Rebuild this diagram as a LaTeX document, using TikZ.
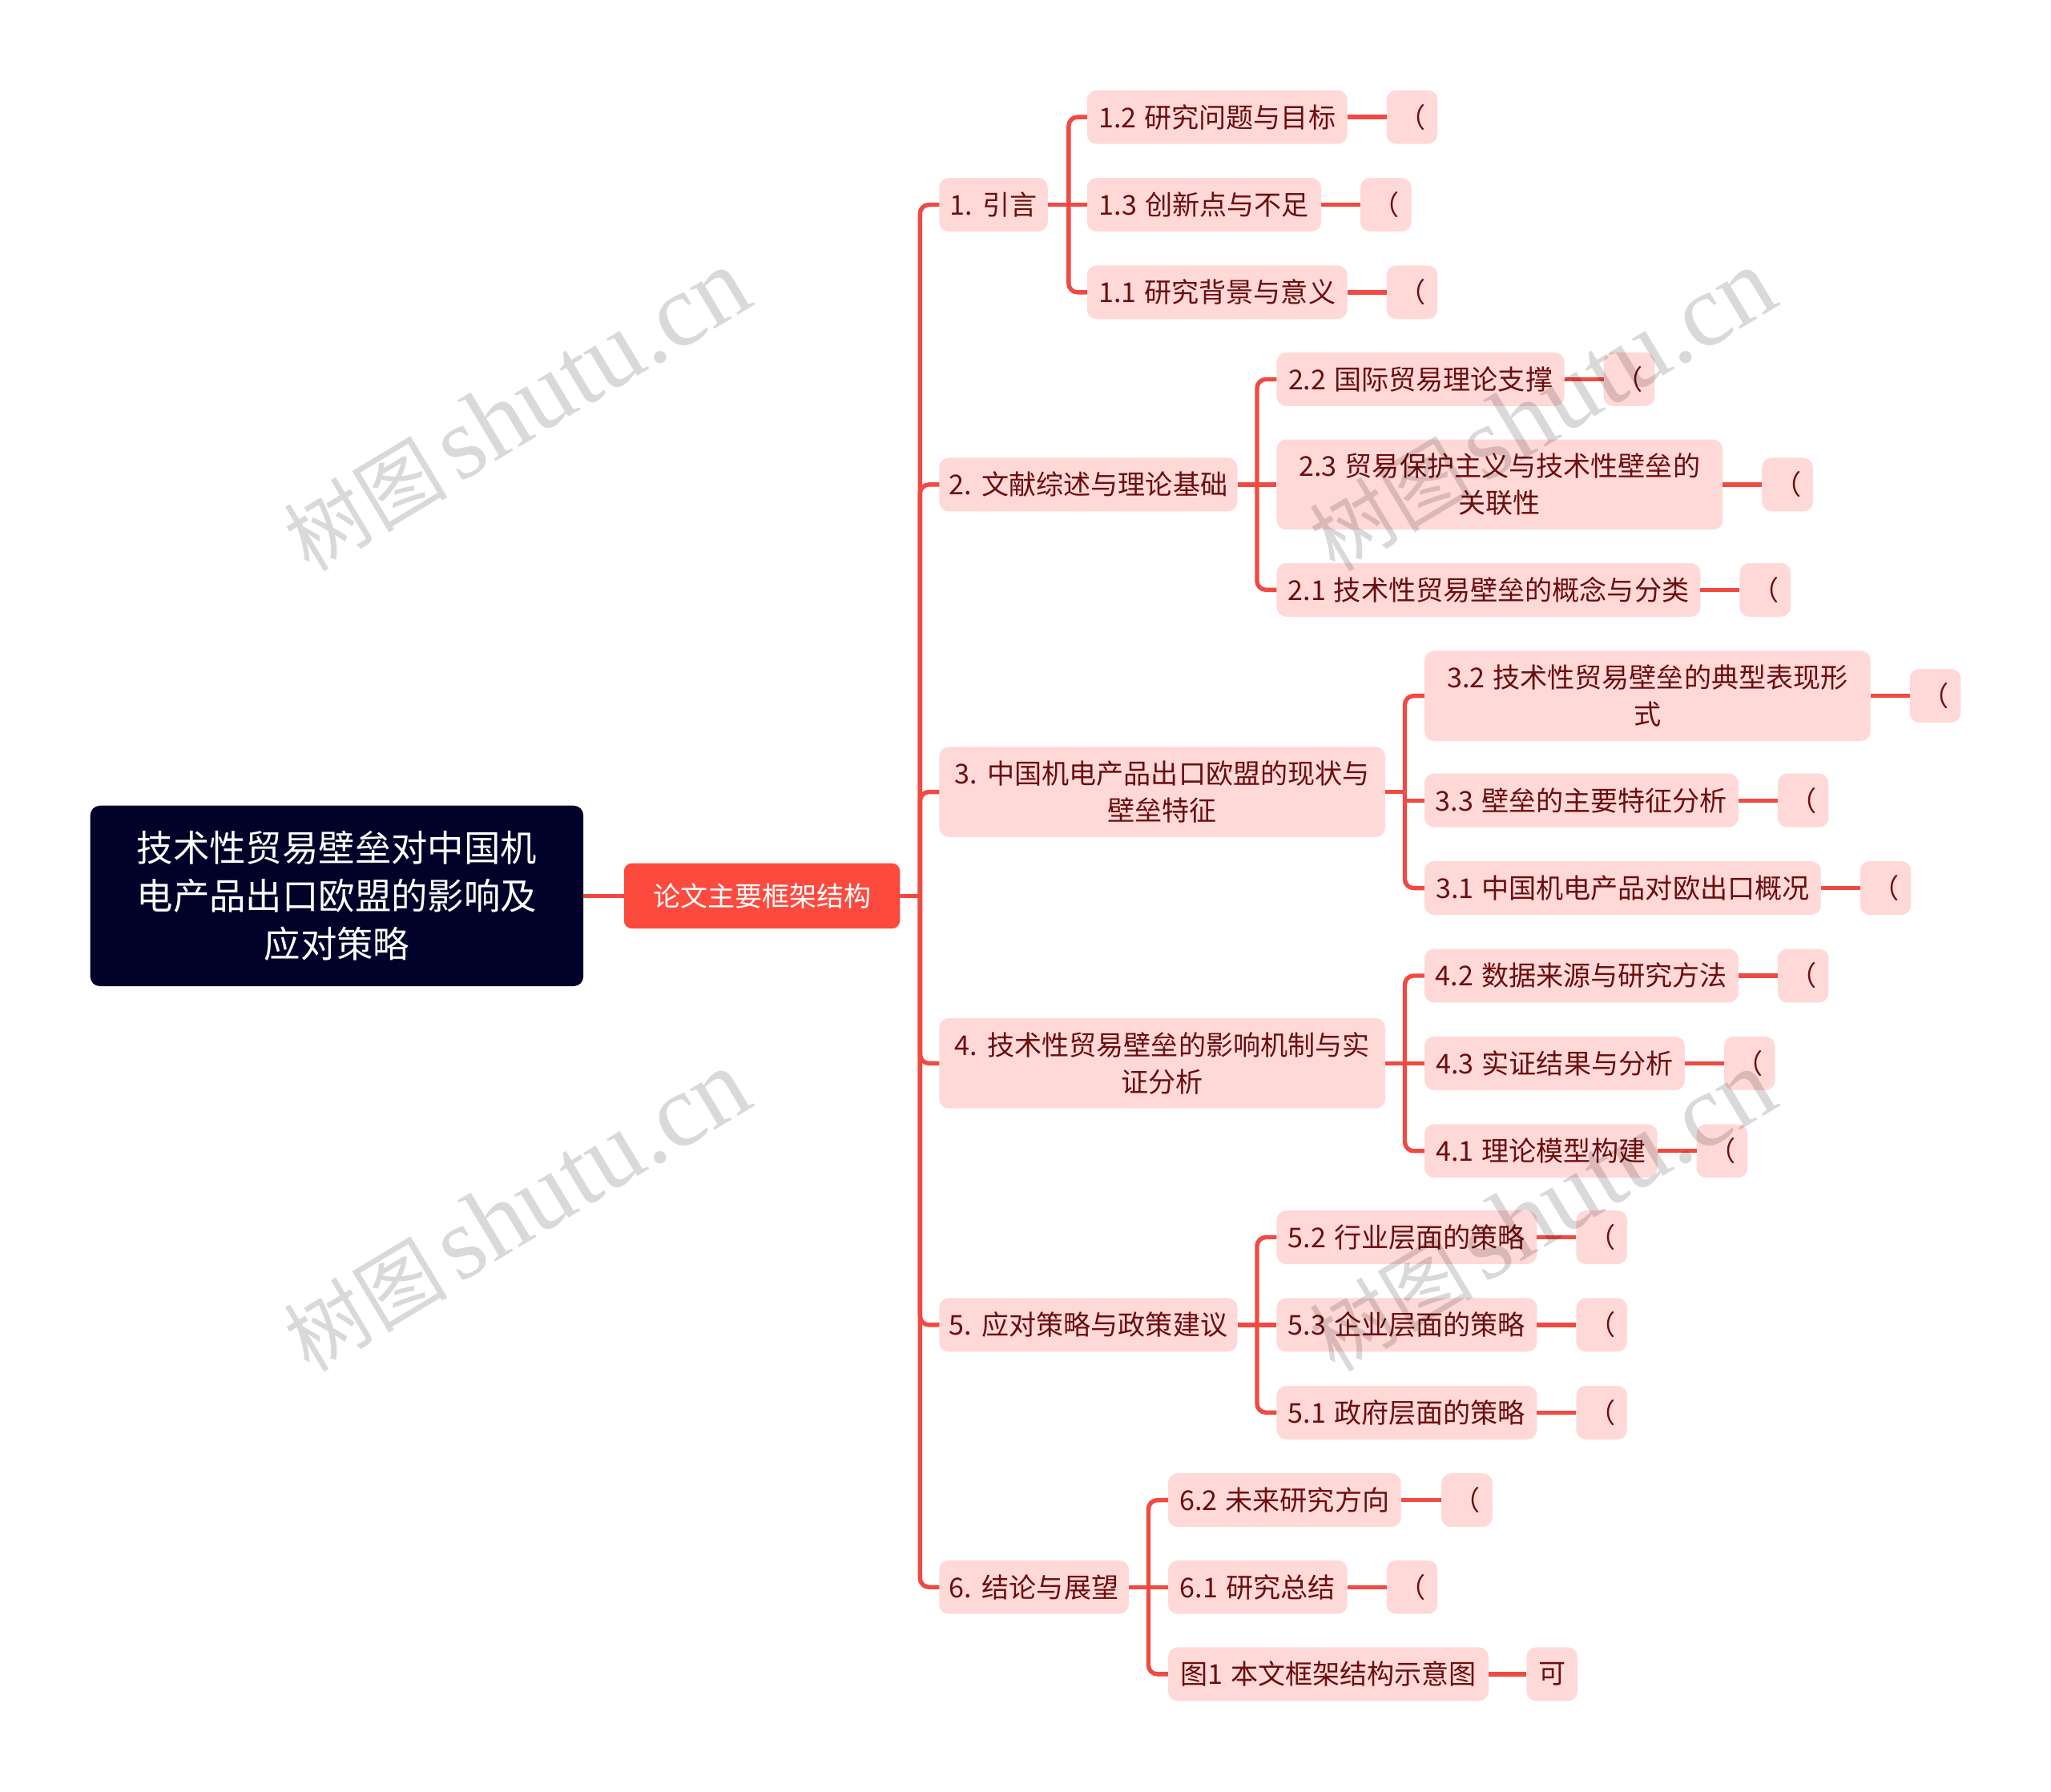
\documentclass[tikz,border=0pt]{standalone}
\usepackage{fontspec}
\setmainfont[WordSpace=1.3]{Noto Sans CJK SC}
\newfontfamily\wmfont{Liberation Serif}
\newfontfamily\wmcjk{Noto Sans CJK SC}
\definecolor{rootbg}{HTML}{000229}
\definecolor{redbg}{HTML}{FC4A3F}
\definecolor{lightbg}{HTML}{FFD9D8}
\definecolor{ink}{HTML}{6B0E0E}
\definecolor{wire}{HTML}{F04A43}
\definecolor{wmgray}{HTML}{D9D9D9}
\newcommand{\boxnode}[7][cell]{%
  \node[#1,minimum width={(#4-#3)*0.81633pt},minimum height={#6*0.81633pt}] (#2) at ({(#3+#4)/2},#5) {#7};}
\newcommand{\kid}[7]{% name x0 x1 yc h text leafx0
  \boxnode{#1}{#2}{#3}{#4}{#5}{#6}
  \boxnode{#1L}{#7}{#7+39}{#4}{41}{（}
  \draw[link] (#1.east) -- (#1L.west);}
% parent, bus, top child, middle child, bottom child
\newcommand{\fan}[5]{%
  \draw[link] (#1.east) -- (#2);
  \draw[link] (#2) |- (#3.west);
  \draw[link] (#2) |- (#5.west);
  \draw[link] (#2 |- #4.west) -- (#4.west);}
\newcommand{\wmtext}{{\wmcjk\fontsize{51}{64}\selectfont 树图}\hspace{7pt}shutu.cn}
\tikzset{
  x=0.81633pt,y=-0.81633pt,
  cell/.style={fill=lightbg,text=ink,rounded corners=6pt,inner sep=0pt,outer sep=0pt,align=center,font=\fontsize{17.05}{22.9}\selectfont},
  rootbox/.style={fill=rootbg,text=white,rounded corners=6pt,inner sep=0pt,outer sep=0pt,align=center,font=\fontsize{22.7}{30.2}\selectfont},
  redbox/.style={fill=redbg,text=white,rounded corners=5pt,inner sep=0pt,outer sep=0pt,align=center,font=\fontsize{17}{22.9}\selectfont},
  link/.style={draw=wire,line width=2.7pt,rounded corners=5.5pt},
  mark wm/.style={text=wmgray,rotate=31,font=\wmfont\fontsize{64.5}{64}\selectfont,inner sep=0pt},
}
\begin{document}
\begin{tikzpicture}
\useasboundingbox[fill=white] (0,0) rectangle (1568,1370.1);
\boxnode[rootbox]{root}{69}{446}{685}{138}{技术性贸易壁垒对中国机\\电产品出口欧盟的影响及\\应对策略}
\boxnode[redbox]{main}{477}{688}{685}{50}{论文主要框架结构}
\draw[link] (root.east) -- (main.west);
\coordinate (busM) at (703.4,685);
\coordinate (bus1) at (817,156.5);
\coordinate (bus2) at (961,370.5);
\coordinate (bus3) at (1074,605.5);
\coordinate (bus4) at (1074,813);
\coordinate (bus5) at (961,1013);
\coordinate (bus6) at (878,1213.5);

\boxnode{s1}{718}{801}{156.5}{41}{1. 引言}
\boxnode{s2}{718}{946}{370.5}{41}{2. 文献综述与理论基础}
\boxnode{s3}{718}{1059}{605.5}{69}{3. 中国机电产品出口欧盟的现状与\\壁垒特征}
\boxnode{s4}{718}{1059}{813}{69}{4. 技术性贸易壁垒的影响机制与实\\证分析}
\boxnode{s5}{718}{946}{1013}{41}{5. 应对策略与政策建议}
\boxnode{s6}{718}{863}{1213.5}{41}{6. 结论与展望}
\draw[link] (main.east) -- (busM);
\foreach \n in {s1,s2,s3,s4,s5,s6} \draw[link] (busM) |- (\n.west);

\kid{a2}{831}{1030}{89.5}{41}{1.2 研究问题与目标}{1060}
\kid{a3}{831}{1010}{156.5}{41}{1.3 创新点与不足}{1040}
\kid{a1}{831}{1030}{223.5}{41}{1.1 研究背景与意义}{1060}
\fan{s1}{bus1}{a2}{a3}{a1}

\kid{b2}{976}{1196}{290}{41}{2.2 国际贸易理论支撑}{1226}
\kid{b3}{976}{1317}{370.5}{69}{2.3 贸易保护主义与技术性壁垒的\\关联性}{1347}
\kid{b1}{976}{1300}{451}{41}{2.1 技术性贸易壁垒的概念与分类}{1330}
\fan{s2}{bus2}{b2}{b3}{b1}

\kid{c2}{1089}{1430}{532}{69}{3.2 技术性贸易壁垒的典型表现形\\式}{1460}
\kid{c3}{1089}{1329}{612}{41}{3.3 壁垒的主要特征分析}{1359}
\kid{c1}{1089}{1392}{679}{41}{3.1 中国机电产品对欧出口概况}{1422}
\fan{s3}{bus3}{c2}{c3}{c1}

\kid{d2}{1089}{1329}{746}{41}{4.2 数据来源与研究方法}{1359}
\kid{d3}{1089}{1288}{813}{41}{4.3 实证结果与分析}{1318}
\kid{d1}{1089}{1267}{880}{41}{4.1 理论模型构建}{1297}
\fan{s4}{bus4}{d2}{d3}{d1}

\kid{e2}{976}{1175}{946}{41}{5.2 行业层面的策略}{1205}
\kid{e3}{976}{1175}{1013}{41}{5.3 企业层面的策略}{1205}
\kid{e1}{976}{1175}{1080}{41}{5.1 政府层面的策略}{1205}
\fan{s5}{bus5}{e2}{e3}{e1}

\kid{f2}{893}{1071}{1147}{41}{6.2 未来研究方向}{1102}
\kid{f1}{893}{1030}{1213.5}{41}{6.1 研究总结}{1060}
\boxnode{f3}{893}{1138}{1280}{41}{图1 本文框架结构示意图}
\boxnode{f3L}{1167}{1206}{1280}{41}{可}
\draw[link] (f3.east) -- (f3L.west);
\fan{s6}{bus6}{f2}{f1}{f3}

\begin{scope}[blend mode=multiply]
\node[mark wm] (w1) at (395,314) {\wmtext};
\node[mark wm] (w2) at (395,926) {\wmtext};
\node[mark wm] (w3) at (1179,314) {\wmtext};
\node[mark wm] (w4) at (1179,926) {\wmtext};
\end{scope}
\end{tikzpicture}
\end{document}
